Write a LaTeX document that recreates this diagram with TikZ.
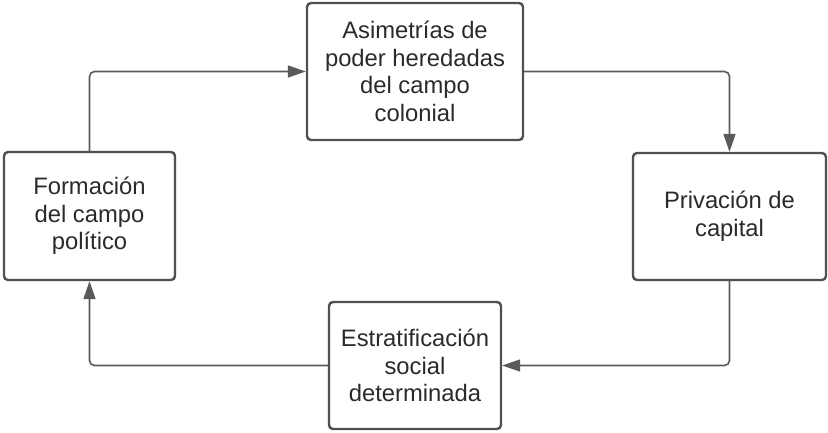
\documentclass[tikz,border=0pt]{standalone}
\usepackage{fontspec}
\setmainfont{Liberation Sans}
\usetikzlibrary{arrows.meta}
\definecolor{boxline}{HTML}{505050}
\definecolor{arrowline}{HTML}{5A5A5A}
\definecolor{labeltext}{HTML}{2A2A2A}
\tikzset{
  stage/.style={draw=boxline, line width=2.4pt, rounded corners=4pt,
    align=center, text=labeltext, inner sep=0pt,
    font=\fontsize{23.8}{27.6}\selectfont},
  flow/.style={draw=arrowline, line width=1.6pt, rounded corners=5pt,
    -{Triangle[length=18pt,width=12pt]}}
}
\begin{document}
\begin{tikzpicture}[x=1pt,y=-1pt]
  \useasboundingbox (0,0) rectangle (828,432);

  % the four stages of the cycle
  \node[stage, minimum width=216, minimum height=137] (asimetrias) at (415,71.5)
    {Asimetrías de\\poder heredadas\\del campo\\colonial};
  \node[stage, minimum width=193, minimum height=127] (privacion) at (729.5,216.5)
    {Privación de\\capital};
  \node[stage, minimum width=172, minimum height=127] (estratificacion) at (415,365.5)
    {Estratificación\\social\\determinada};
  \node[stage, minimum width=171, minimum height=128] (formacion) at (89.5,216)
    {Formación\\del campo\\político};

  % arrows between them
  \draw[flow] (asimetrias.east) -| (privacion.north);
  \draw[flow] (privacion.south) |- (estratificacion.east);
  \draw[flow] (estratificacion.west) -| (formacion.south);
  \draw[flow] (formacion.north) |- (asimetrias.west);
\end{tikzpicture}
\end{document}
